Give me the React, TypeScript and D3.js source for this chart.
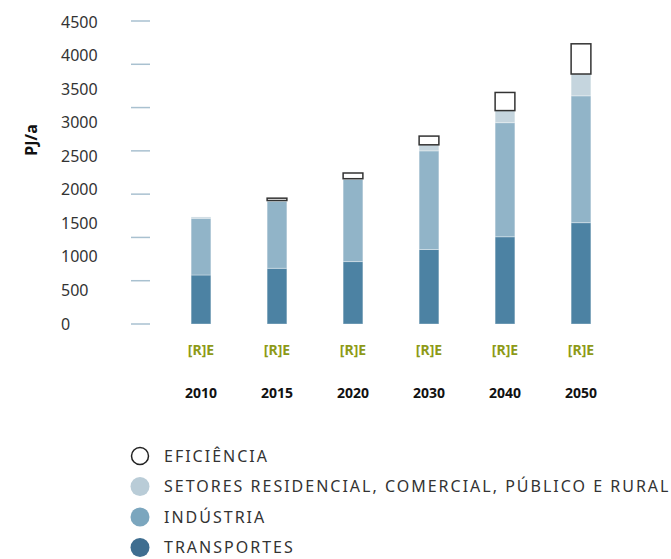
import React from 'react';
import * as d3 from 'd3';

const years = ['2010', '2015', '2020', '2030', '2040', '2050'];
const transportes = [730, 830, 930, 1110, 1300, 1510];
const industria = [845, 1000, 1225, 1470, 1700, 1890];
const residencial = [20, 10, 10, 90, 180, 325];
const eficiencia = [0, 35, 85, 130, 270, 450];
const yTickLabels = [0, 500, 1000, 1500, 2000, 2500, 3000, 3500, 4000, 4500];
const legendItems = [
    { label: 'EFICIÊNCIA', color: 'none' },
    { label: 'SETORES RESIDENCIAL, COMERCIAL, PÚBLICO E RURAL', color: '#b9ccd7' },
    { label: 'INDÚSTRIA', color: '#7ba6be' },
    { label: 'TRANSPORTES', color: '#3f6e90' }
];

const width = 671;
const height = 559;
const font = '"Noto Sans", "DejaVu Sans", sans-serif';

export default function App() {
    const x = d3.scaleBand().domain(years).range([163, 619]).paddingInner(0.74).paddingOuter(0.37);
    const y = d3.scaleLinear().domain([0, 4500]).range([324, 22]);
    // the tick marks in the original don't line up with the labels: 8 marks evenly spaced
    const tickY = d3.scaleLinear().domain([0, 7]).range([324, 21]);

    const rows = years.map((yr, i) => ({
        year: yr,
        transportes: transportes[i],
        industria: industria[i],
        residencial: residencial[i],
        eficiencia: eficiencia[i]
    }));
    const keys = ['transportes', 'industria', 'residencial'];
    const fills = ['#4c82a3', '#91b4c8', '#c5d5de'];
    const stacked = d3.stack().keys(keys)(rows as any);

    return (
        <svg width={width} height={height} style={{ position: 'absolute', left: 0, top: 0 }}>
            {/* tick marks */}
            {d3.range(8).map((i) => (
                <line key={i} x1={131} x2={150} y1={tickY(i)} y2={tickY(i)} stroke="#a9c1d0" strokeWidth={1.5} />
            ))}
            {/* y labels */}
            {yTickLabels.map((v) => (
                <text key={v} x={61} y={y(v)} dy="0.35em" fontFamily={font} fontSize={16} fill="#333">{v}</text>
            ))}
            <text transform="translate(37,140) rotate(-90)" textAnchor="middle" fontFamily={font}
                fontWeight="bold" fontSize={16} fill="#111">PJ/a</text>

            {/* stacked bars */}
            {stacked.map((series, si) => (
                <g key={keys[si]}>
                    {series.map((d: any, i) => (
                        d[1] - d[0] > 0 ?
                            <rect key={i} x={x(years[i])} width={x.bandwidth()} y={y(d[1])}
                                height={y(d[0]) - y(d[1])} fill={fills[si]} stroke="#fff" strokeOpacity={0.35} strokeWidth={1} /> : null
                    ))}
                </g>
            ))}
            {/* efficiency boxes */}
            {rows.map((r, i) => {
                if (r.eficiencia <= 0) return null;
                const base = r.transportes + r.industria + r.residencial;
                return (
                    <rect key={r.year} x={x(r.year)} width={x.bandwidth()} y={y(base + r.eficiencia)}
                        height={y(base) - y(base + r.eficiencia)} fill="#fff" stroke="#333" strokeWidth={1.5} />
                );
            })}

            {/* category labels */}
            {years.map((yr) => (
                <g key={yr}>
                    <text x={x(yr)! + x.bandwidth() / 2} y={350} dy="0.35em" textAnchor="middle" fontFamily={font}
                        fontWeight="bold" fontSize={14} fill="#8d9a17">[R]E</text>
                    <text x={x(yr)! + x.bandwidth() / 2} y={393} dy="0.35em" textAnchor="middle" fontFamily={font}
                        fontWeight="bold" fontSize={14} fill="#111">{yr}</text>
                </g>
            ))}

            {/* legend */}
            {legendItems.map((item, i) => (
                <g key={item.label} transform={`translate(0, ${456 + i * 30.5})`}>
                    <circle cx={140} cy={0} r={item.color === 'none' ? 8.5 : 9.5} fill={item.color === 'none' ? '#fff' : item.color}
                        stroke={item.color === 'none' ? '#222' : 'none'} strokeWidth={1.5} />
                    <text x={164} y={0} dy="0.35em" fontFamily={font} fontSize={16} letterSpacing={2} fill="#333">{item.label}</text>
                </g>
            ))}
        </svg>
    );
}
